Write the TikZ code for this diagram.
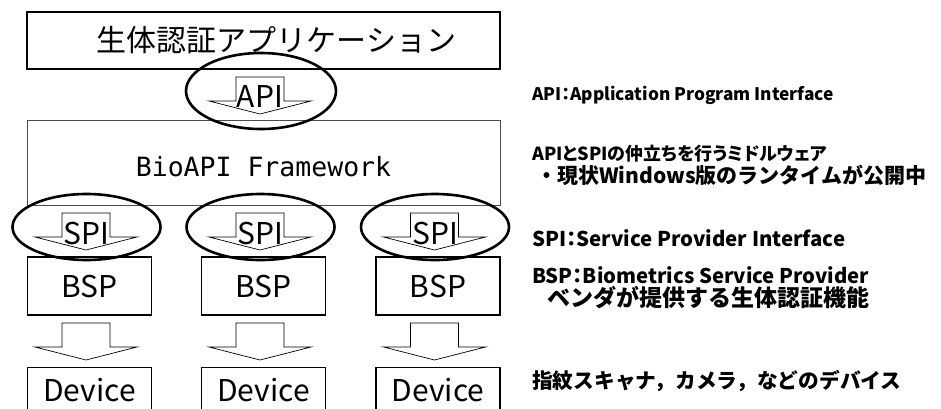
\documentclass[tikz,border=0pt]{standalone}
\usepackage{fontspec}
\usetikzlibrary{shapes.geometric,positioning}

\newfontfamily\jpfont{Noto Sans CJK JP}
\newfontfamily\notefont{Noto Sans CJK JP}[RawFeature=+palt]
\newfontfamily\fullnotefont{Noto Sans CJK JP}
\newfontfamily\fwfont{DejaVu Sans Mono}

\begin{document}
\begin{tikzpicture}[x=1pt,y=-1pt,
    box/.style={draw, line width=1.4pt, minimum width=124pt, minimum height=58pt,
                inner sep=0pt, font=\jpfont\fontsize{30}{30}\selectfont},
    iface/.style={ellipse, draw, line width=2.6pt, minimum width=148pt, minimum height=66pt},
    tag/.style={inner sep=0pt, font=\jpfont\fontsize{30}{30}\selectfont},
    note/.style={anchor=base west, inner sep=0pt, font=\notefont\bfseries\fontsize{#1}{#1}\selectfont},
    note/.default=19,
    fullnote/.style={anchor=base west, inner sep=0pt, font=\fullnotefont\bfseries\fontsize{#1}{#1}\selectfont},
    blockdown/.pic={\draw[line width=0.7pt] (-24,0) -- (24,0) -- (24,24) -- (51,24)
                     -- (0,37) -- (-51,24) -- (-24,24) -- cycle;}]
    \useasboundingbox (0,0) rectangle (941,408);

    \node[box, line width=1.6pt, minimum width=473pt, minimum height=57pt,
          label={[tag, xshift=13pt]center:生体認証アプリケーション}] (app) at (263.5,40.5) {};
    \node[box, draw=black!70, line width=0.8pt, minimum width=473pt, minimum height=85pt,
          label={[font=\fwfont\fontsize{26.5}{26.5}\selectfont, yshift=-4pt]center:BioAPI Framework}] (fw) at (263.5,162.5) {};

    \pic at (260,77) {blockdown};
    \node[tag] (api) at (260,96) {API};
    \node[iface, minimum width=150pt, minimum height=76pt] (apiring) at (261,91) {};

    \foreach \n/\x in {1/89.5, 2/263.5, 3/438} {
        \pic at (\x-3.5,213) {blockdown};
        \node[tag] (spi\n) at (\x-3,233.5) {SPI};
        \node[iface] (spiring\n) at (\x-3,227) {};
        \node[box] (bsp\n) at (\x,286) {BSP};
        \pic at (\x-3.5,323) {blockdown};
        \node[box, minimum height=46pt, below=51pt of bsp\n] (dev\n) {Device};
    }

    \node[note=17.3] (noteapi) at (532,100) {API：Application Program Interface};
    \node[note=18] (notefw) at (532,160) {APIとSPIの仲立ちを行うミドルウェア};
    \node[fullnote=21] (noterun) at (536,183) {・現状Windows版のランタイムが公開中};
    \node[note=20.4] (notespi) at (532,246) {SPI：Service Provider Interface};
    \node[note=20.3] (notebsp) at (532,283) {BSP：Biometrics Service Provider};
    \node[fullnote=23] (notevendor) at (547,306) {ベンダが提供する生体認証機能};
    \node[fullnote=20.7] (notedev) at (532,388) {指紋スキャナ，カメラ，などのデバイス};
\end{tikzpicture}
\end{document}
